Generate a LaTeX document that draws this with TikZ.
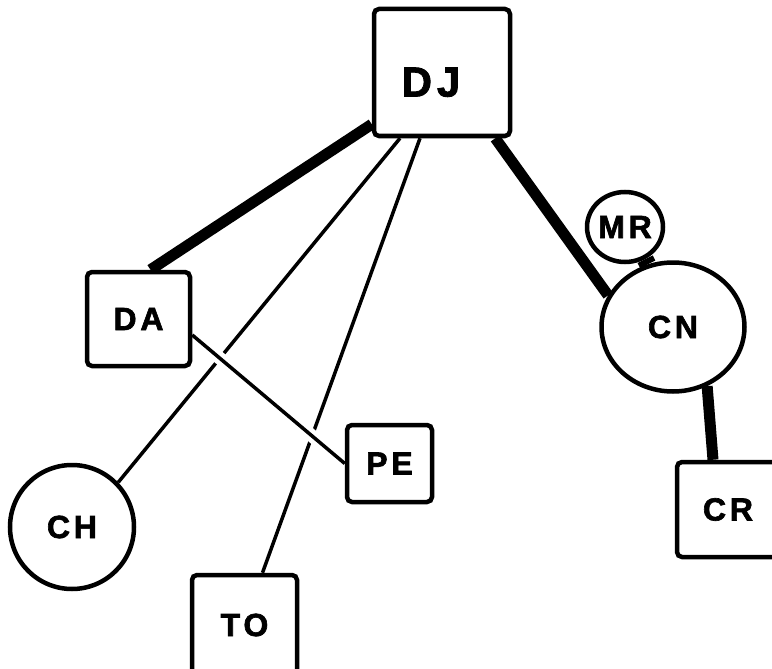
\documentclass[tikz,border=0pt]{standalone}
\usepackage{fontspec}
\newfontfamily\lblfont[LetterSpace=12, FakeBold=2]{Liberation Sans Bold}
\usetikzlibrary{shapes.geometric,backgrounds}

\begin{document}
\begin{tikzpicture}[
  x=1pt, y=-1pt,
  box/.style={rectangle, rounded corners=5pt, draw=black, line width=4.5pt,
              fill=white, inner sep=0pt,
              font=\lblfont\fontsize{32}{32}\selectfont},
  disc/.style={ellipse, draw=black, line width=4.5pt, fill=white, inner sep=0pt,
               font=\lblfont\fontsize{32}{32}\selectfont},
  thinlink/.style={line width=3.5pt},
  heavylink/.style={line width=11pt},
  gaplink/.style={draw=white, line width=13pt}
]
\useasboundingbox (0,0) rectangle (772,669);

\node[box, minimum width=136pt, minimum height=127pt, text height=48pt, text depth=0pt,
      font=\lblfont\fontsize{42}{42}\selectfont] (DJ) at (442,72.5) {DJ\hspace*{22pt}};
\node[box, minimum width=103pt, minimum height=94pt]  (DA) at (138.5,319)  {DA};
\node[box, minimum width=85pt,  minimum height=77pt]  (PE) at (389.5,463.5) {PE};
\node[box, minimum width=105pt, minimum height=100pt] (TO) at (244.5,625)  {TO};
\node[box, minimum width=102pt, minimum height=95pt]  (CR) at (728,509.5)  {CR};
\node[disc, minimum width=124pt, minimum height=124pt] (CH) at (72,527)   {CH};
\node[disc, minimum width=143pt, minimum height=129pt] (CN) at (673,327)  {CN};
\node[disc, minimum width=76pt,  minimum height=70pt]  (MR) at (625,227)  {MR};

\begin{pgfonlayer}{background}
  \fill[white] (0,0) rectangle (772,669);
  % thin links, crossed by DA--PE
  \draw[thinlink] ([xshift=-42pt]DJ.south) -- (CH.44);
  \draw[thinlink] ([xshift=-22pt]DJ.south) -- ([xshift=18pt]TO.north);
  \draw[gaplink]  ([yshift=-16pt]DA.east) -- (PE.west);
  \draw[thinlink] ([yshift=-16pt]DA.east) -- (PE.west);
  % heavy links
  \draw[heavylink] ([yshift=14pt]DJ.south west) -- ([xshift=12pt]DA.north);
  \draw[heavylink] ([xshift=-17pt]DJ.south east) -- (CN.154);
  \draw[line width=17pt] (MR.-58) -- (CN.112);
  \draw[heavylink] (CN.-60) -- ([xshift=-15pt]CR.north);
\end{pgfonlayer}
\end{tikzpicture}
\end{document}
